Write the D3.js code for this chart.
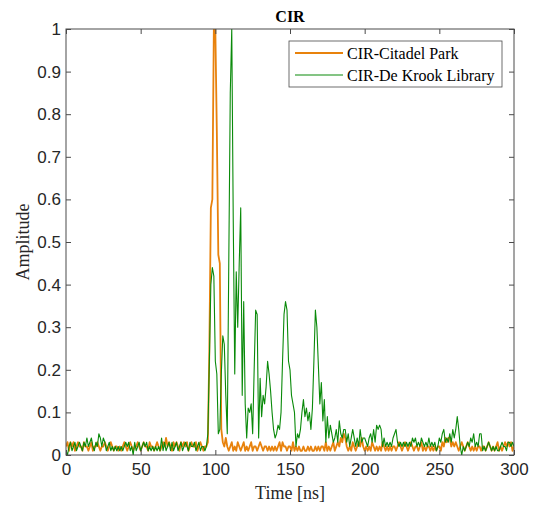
<!DOCTYPE html>
<html>
<head>
<meta charset="utf-8">
<script src="https://cdn.jsdelivr.net/npm/d3@7"></script>
<style>
  body { margin: 0; background: #fff; }
  svg { display: block; }
</style>
</head>
<body>
<svg id="chart" width="533" height="506"></svg>
<script>
// sample grid in ns (one sample per ns)
const timeNs = d3.range(0, 301);

// CIR amplitudes, one row per 10 ns
const citadelPark = [
  0.02, 0.03, 0.01, 0.03, 0.02, 0.03, 0.01, 0.02, 0.03, 0.02,
  0.02, 0.01, 0.03, 0.02, 0.02, 0.01, 0.02, 0.03, 0.01, 0.02,
  0.02, 0.03, 0.02, 0.01, 0.02, 0.02, 0.03, 0.02, 0.01, 0.02,
  0.03, 0.02, 0.01, 0.02, 0.02, 0.01, 0.02, 0.01, 0.02, 0.03,
  0.02, 0.01, 0.02, 0.03, 0.02, 0.01, 0.02, 0.02, 0.03, 0.02,
  0.01, 0.02, 0.03, 0.02, 0.02, 0.01, 0.03, 0.02, 0.02, 0.01,
  0.02, 0.03, 0.02, 0.01, 0.02, 0.03, 0.02, 0.04, 0.02, 0.03,
  0.02, 0.01, 0.03, 0.02, 0.03, 0.02, 0.01, 0.03, 0.02, 0.03,
  0.02, 0.03, 0.01, 0.02, 0.03, 0.02, 0.02, 0.03, 0.01, 0.02,
  0.03, 0.02, 0.01, 0.02, 0.02, 0.03, 0.25, 0.58, 0.60, 1.00,
  1.00, 0.76, 0.47, 0.45, 0.06, 0.03, 0.02, 0.04, 0.02, 0.01,
  0.02, 0.03, 0.01, 0.02, 0.01, 0.03, 0.02, 0.01, 0.02, 0.03,
  0.01, 0.02, 0.01, 0.02, 0.03, 0.01, 0.02, 0.02, 0.01, 0.02,
  0.03, 0.02, 0.01, 0.02, 0.02, 0.01, 0.02, 0.01, 0.02, 0.01,
  0.02, 0.01, 0.02, 0.03, 0.01, 0.03, 0.02, 0.02, 0.01, 0.02,
  0.02, 0.01, 0.03, 0.01, 0.02, 0.01, 0.02, 0.01, 0.01, 0.02,
  0.01, 0.01, 0.02, 0.01, 0.02, 0.01, 0.01, 0.02, 0.01, 0.02,
  0.01, 0.02, 0.02, 0.01, 0.03, 0.01, 0.02, 0.01, 0.02, 0.03,
  0.01, 0.02, 0.03, 0.02, 0.04, 0.03, 0.05, 0.04, 0.02, 0.01,
  0.02, 0.01, 0.03, 0.02, 0.01, 0.02, 0.03, 0.02, 0.04, 0.02,
  0.01, 0.02, 0.01, 0.02, 0.01, 0.03, 0.02, 0.01, 0.02, 0.01,
  0.02, 0.01, 0.03, 0.02, 0.01, 0.02, 0.01, 0.02, 0.01, 0.02,
  0.02, 0.01, 0.02, 0.03, 0.02, 0.01, 0.02, 0.03, 0.02, 0.01,
  0.02, 0.03, 0.02, 0.01, 0.02, 0.02, 0.01, 0.02, 0.03, 0.01,
  0.02, 0.01, 0.02, 0.02, 0.01, 0.02, 0.01, 0.02, 0.01, 0.02,
  0.02, 0.01, 0.03, 0.02, 0.04, 0.03, 0.04, 0.04, 0.02, 0.03,
  0.02, 0.03, 0.02, 0.01, 0.02, 0.03, 0.02, 0.01, 0.02, 0.03,
  0.02, 0.01, 0.02, 0.01, 0.02, 0.01, 0.02, 0.02, 0.01, 0.02,
  0.02, 0.01, 0.02, 0.03, 0.02, 0.01, 0.02, 0.01, 0.02, 0.03,
  0.01, 0.02, 0.01, 0.02, 0.03, 0.02, 0.03, 0.02, 0.03, 0.01,
  0.02
];

const deKrookLibrary = [
  0.01, 0.00, 0.02, 0.03, 0.01, 0.02, 0.03, 0.01, 0.02, 0.03,
  0.02, 0.01, 0.03, 0.02, 0.04, 0.02, 0.03, 0.04, 0.02, 0.01,
  0.03, 0.02, 0.05, 0.04, 0.02, 0.04, 0.03, 0.01, 0.02, 0.03,
  0.01, 0.02, 0.01, 0.02, 0.01, 0.02, 0.01, 0.02, 0.01, 0.02,
  0.03, 0.02, 0.03, 0.01, 0.02, 0.00, 0.03, 0.01, 0.02, 0.03,
  0.01, 0.02, 0.03, 0.02, 0.03, 0.01, 0.02, 0.01, 0.02, 0.01,
  0.02, 0.01, 0.02, 0.01, 0.04, 0.01, 0.03, 0.01, 0.02, 0.03,
  0.01, 0.03, 0.01, 0.02, 0.03, 0.01, 0.02, 0.03, 0.01, 0.02,
  0.03, 0.02, 0.01, 0.03, 0.02, 0.02, 0.03, 0.01, 0.02, 0.03,
  0.01, 0.02, 0.02, 0.01, 0.02, 0.05, 0.22, 0.40, 0.44, 0.42,
  0.22, 0.19, 0.05, 0.06, 0.19, 0.28, 0.26, 0.14, 0.05, 0.45,
  0.85, 1.00, 0.55, 0.19, 0.43, 0.30, 0.45, 0.58, 0.14, 0.36,
  0.12, 0.04, 0.11, 0.10, 0.12, 0.05, 0.20, 0.34, 0.33, 0.04,
  0.18, 0.09, 0.14, 0.12, 0.16, 0.22, 0.19, 0.15, 0.10, 0.06,
  0.04, 0.05, 0.07, 0.06, 0.10, 0.22, 0.33, 0.36, 0.34, 0.22,
  0.20, 0.14, 0.12, 0.10, 0.02, 0.05, 0.04, 0.06, 0.10, 0.13,
  0.09, 0.11, 0.08, 0.10, 0.06, 0.11, 0.22, 0.34, 0.30, 0.21,
  0.12, 0.17, 0.08, 0.13, 0.03, 0.09, 0.04, 0.07, 0.05, 0.03,
  0.04, 0.06, 0.03, 0.08, 0.05, 0.04, 0.06, 0.06, 0.03, 0.05,
  0.02, 0.04, 0.06, 0.04, 0.02, 0.04, 0.02, 0.06, 0.03, 0.04,
  0.04, 0.03, 0.02, 0.04, 0.05, 0.03, 0.06, 0.03, 0.07, 0.06,
  0.07, 0.06, 0.02, 0.04, 0.02, 0.03, 0.02, 0.03, 0.02, 0.04,
  0.05, 0.06, 0.03, 0.02, 0.03, 0.02, 0.03, 0.02, 0.03, 0.02,
  0.03, 0.02, 0.04, 0.03, 0.04, 0.02, 0.03, 0.02, 0.04, 0.03,
  0.02, 0.03, 0.02, 0.04, 0.02, 0.03, 0.02, 0.03, 0.01, 0.02,
  0.04, 0.03, 0.05, 0.06, 0.03, 0.04, 0.03, 0.05, 0.03, 0.06,
  0.04, 0.06, 0.09, 0.06, 0.02, 0.00, 0.02, 0.01, 0.02, 0.03,
  0.02, 0.04, 0.03, 0.05, 0.02, 0.03, 0.02, 0.05, 0.05, 0.01,
  0.02, 0.01, 0.02, 0.03, 0.02, 0.01, 0.02, 0.01, 0.02, 0.01,
  0.01, 0.02, 0.03, 0.02, 0.02, 0.01, 0.03, 0.03, 0.02, 0.03,
  0.02
];

const xTicks = [0, 50, 100, 150, 200, 250, 300];
const yTicks = [0, 0.1, 0.2, 0.3, 0.4, 0.5, 0.6, 0.7, 0.8, 0.9, 1];
const seriesNames = ["CIR-Citadel Park", "CIR-De Krook Library"];

const margin = {top: 29, right: 19, bottom: 51, left: 66};
const width = 533, height = 506;
const innerW = width - margin.left - margin.right;
const innerH = height - margin.top - margin.bottom;

const svg = d3.select("#chart");
const g = svg.append("g").attr("transform", `translate(${margin.left},${margin.top})`);

const x = d3.scaleLinear().domain([0, 300]).range([0, innerW]);
const y = d3.scaleLinear().domain([0, 1]).range([innerH, 0]);

const axisColor = "#4a4a4a";
const tickFont = "'Liberation Sans', Arial, sans-serif";
const serif = "'Liberation Serif', 'Times New Roman', serif";

// clip so the peaks stop at the top of the box
g.append("clipPath").attr("id", "clip")
  .append("rect").attr("width", innerW).attr("height", innerH);

const series = [
  {name: seriesNames[0], values: citadelPark, color: "#e8820c", width: 1.8},
  {name: seriesNames[1], values: deKrookLibrary, color: "#0a8a0a", width: 1.1}
];

const line = d3.line()
  .x((d, i) => x(timeNs[i]))
  .y(d => y(d));

g.append("g").attr("clip-path", "url(#clip)")
  .selectAll("path")
  .data(series)
  .join("path")
  .attr("fill", "none")
  .attr("stroke", d => d.color)
  .attr("stroke-width", d => d.width)
  .attr("stroke-linejoin", "round")
  .attr("d", d => line(d.values));

// axes with inward ticks on all four sides (MATLAB box style)
function styleAxis(sel) {
  sel.select(".domain").remove();
  sel.selectAll(".tick line").attr("stroke", axisColor);
  sel.selectAll(".tick text")
    .attr("fill", "#262626")
    .style("font-family", tickFont)
    .style("font-size", "17px");
}

g.append("g").attr("transform", `translate(0,${innerH})`)
  .call(d3.axisBottom(x).tickValues(xTicks).tickSizeInner(-5).tickSizeOuter(0).tickPadding(8))
  .call(styleAxis);
g.append("g")
  .call(d3.axisTop(x).tickValues(xTicks).tickSizeInner(-5).tickSizeOuter(0).tickFormat(""))
  .call(styleAxis);
g.append("g")
  .call(d3.axisLeft(y).tickValues(yTicks).tickSizeInner(-5).tickSizeOuter(0).tickPadding(5)
    .tickFormat(d3.format("~g")))
  .call(styleAxis);
g.append("g").attr("transform", `translate(${innerW},0)`)
  .call(d3.axisRight(y).tickValues(yTicks).tickSizeInner(-5).tickSizeOuter(0).tickFormat(""))
  .call(styleAxis);

g.append("rect")
  .attr("width", innerW).attr("height", innerH)
  .attr("fill", "none").attr("stroke", axisColor).attr("stroke-width", 1);

// title and axis labels
svg.append("text")
  .attr("x", margin.left + innerW / 2).attr("y", 22)
  .attr("text-anchor", "middle")
  .style("font-family", serif).style("font-weight", "bold").style("font-size", "16px")
  .text("CIR");

svg.append("text")
  .attr("x", margin.left + innerW / 2).attr("y", 499)
  .attr("text-anchor", "middle")
  .style("font-family", serif).style("font-size", "18px").attr("fill", "#262626")
  .text("Time [ns]");

svg.append("text")
  .attr("transform", `translate(29,${margin.top + innerH / 2}) rotate(-90)`)
  .attr("text-anchor", "middle")
  .style("font-family", serif).style("font-size", "18px").attr("fill", "#262626")
  .text("Amplitude");

// legend
const legend = svg.append("g").attr("transform", "translate(289,41)");
legend.append("rect")
  .attr("width", 213).attr("height", 46)
  .attr("fill", "#fff").attr("stroke", axisColor).attr("stroke-width", 0.8);

const rows = legend.selectAll("g.row")
  .data(series)
  .join("g")
  .attr("class", "row")
  .attr("transform", (d, i) => `translate(0,${12 + i * 22})`);
rows.append("line")
  .attr("x1", 6).attr("x2", 54)
  .attr("stroke", d => d.color).attr("stroke-width", d => d.width);
rows.append("text")
  .attr("x", 58).attr("dy", "0.35em")
  .style("font-family", serif).style("font-size", "16px").attr("fill", "#000")
  .text(d => d.name);
</script>
</body>
</html>
